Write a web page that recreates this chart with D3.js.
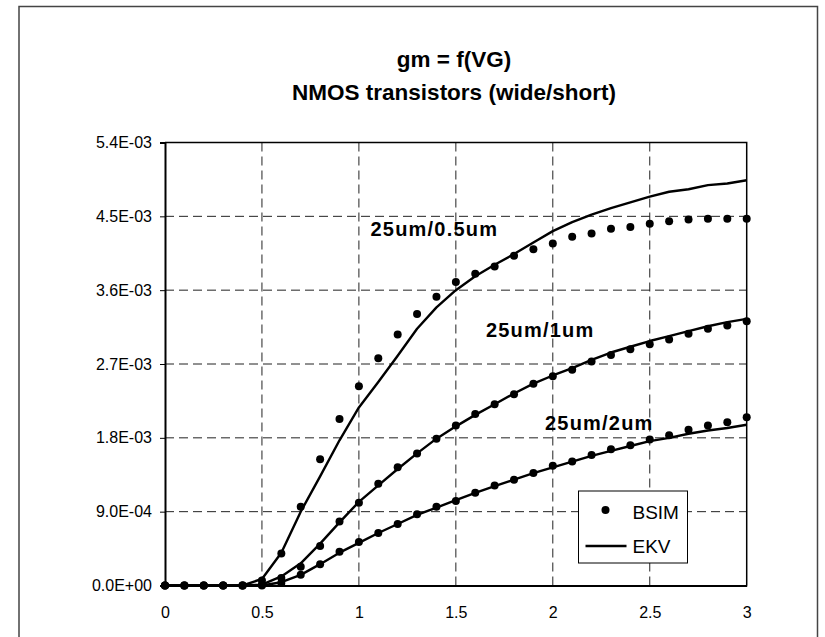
<!DOCTYPE html>
<html>
<head>
<meta charset="utf-8">
<script src="https://cdn.jsdelivr.net/npm/d3@7"></script>
<style>
  html, body { margin: 0; padding: 0; background: #fff; }
  svg { display: block; font-family: "Liberation Sans", Arial, sans-serif; }
</style>
</head>
<body>
<svg id="chart" width="825" height="637"></svg>
<script>
// Gate voltage sweep (V)
const vg = [0, 0.1, 0.2, 0.3, 0.4, 0.5, 0.6, 0.7, 0.8, 0.9, 1.0,
            1.1, 1.2, 1.3, 1.4, 1.5, 1.6, 1.7, 1.8, 1.9, 2.0,
            2.1, 2.2, 2.3, 2.4, 2.5, 2.6, 2.7, 2.8, 2.9, 3.0];

// Transconductance gm, in mS (converted to S when plotted)
const bsim_05 = [0, 0, 0, 0, 0, 0.06, 0.39, 0.96, 1.54, 2.03, 2.43,
                 2.77, 3.06, 3.31, 3.52, 3.70, 3.80, 3.89, 4.02, 4.10, 4.17,
                 4.25, 4.29, 4.35, 4.37, 4.41, 4.44, 4.46, 4.47, 4.47, 4.47];
const ekv_05  = [0, 0, 0, 0, 0, 0.08, 0.40, 0.90, 1.33, 1.77, 2.17,
                 2.48, 2.80, 3.13, 3.39, 3.60, 3.77, 3.91, 4.04, 4.18, 4.32,
                 4.43, 4.52, 4.60, 4.67, 4.74, 4.80, 4.83, 4.88, 4.90, 4.94];
const bsim_1  = [0, 0, 0, 0, 0, 0.01, 0.09, 0.23, 0.48, 0.78, 1.01,
                 1.24, 1.44, 1.61, 1.79, 1.95, 2.09, 2.21, 2.33, 2.46, 2.55,
                 2.63, 2.73, 2.81, 2.88, 2.94, 3.00, 3.07, 3.13, 3.17, 3.22];
const ekv_1   = [0, 0, 0, 0, 0, 0.01, 0.11, 0.27, 0.51, 0.77, 1.02,
                 1.22, 1.42, 1.61, 1.79, 1.94, 2.08, 2.21, 2.34, 2.46, 2.56,
                 2.65, 2.75, 2.84, 2.91, 2.98, 3.04, 3.10, 3.16, 3.21, 3.25];
const bsim_2  = [0, 0, 0, 0, 0, 0, 0.03, 0.13, 0.26, 0.41, 0.53,
                 0.64, 0.75, 0.87, 0.96, 1.03, 1.13, 1.22, 1.29, 1.37, 1.46,
                 1.51, 1.59, 1.66, 1.71, 1.78, 1.83, 1.90, 1.95, 1.99, 2.05];
const ekv_2   = [0, 0, 0, 0, 0, 0, 0.04, 0.13, 0.26, 0.40, 0.52,
                 0.64, 0.75, 0.86, 0.95, 1.04, 1.13, 1.21, 1.29, 1.37, 1.44,
                 1.51, 1.58, 1.64, 1.70, 1.76, 1.80, 1.85, 1.89, 1.92, 1.96];

const xTicks = [0, 0.5, 1, 1.5, 2, 2.5, 3];
const yTicks = [0, 0.0009, 0.0018, 0.0027, 0.0036, 0.0045, 0.0054];

const titleLines = ["gm = f(VG)", "NMOS transistors (wide/short)"];
const curveLabels = [
  { text: "25um/0.5um", at: [1.06, 4.26] },
  { text: "25um/1um",   at: [1.655, 3.03] },
  { text: "25um/2um",   at: [1.96, 1.90] }
];
const legendItems = ["BSIM", "EKV"];

const seriesBSIM = [bsim_05, bsim_1, bsim_2];
const seriesEKV  = [ekv_05, ekv_1, ekv_2];

const svg = d3.select("#chart");

// Outer chart frame (open at the bottom edge of the page)
svg.append("path")
  .attr("d", "M19,640 V6.5 H817.5 V640")
  .attr("fill", "none")
  .attr("stroke", "#444")
  .attr("stroke-width", 1.5);

const x = d3.scaleLinear().domain([0, 3]).range([165, 746.7]);
const y = d3.scaleLinear().domain([0, 0.0054]).range([585.5, 142.5]);

function fmtE(v) {
  const [m, e] = v.toExponential(1).split("e");
  const sign = e[0] === "-" ? "-" : "+";
  return m + "E" + sign + String(Math.abs(+e)).padStart(2, "0");
}

// Dashed grid
const grid = svg.append("g").attr("stroke", "#222").attr("stroke-width", 1)
  .attr("stroke-dasharray", "9,5");
grid.selectAll("line.h").data(yTicks.slice(1, -1)).join("line")
  .attr("x1", x(0)).attr("x2", x(3))
  .attr("y1", d => y(d)).attr("y2", d => y(d));
grid.selectAll("line.v").data(xTicks.slice(1, -1)).join("line")
  .attr("class", "v")
  .attr("x1", d => x(d)).attr("x2", d => x(d))
  .attr("y1", y(0.0054)).attr("y2", y(0));

// Plot border (top and right)
svg.append("path")
  .attr("d", `M${x(0)},${y(0.0054)} H${x(3)} V${y(0)}`)
  .attr("fill", "none").attr("stroke", "#000").attr("stroke-width", 1.5);

// Axes
const yAxis = d3.axisLeft(y).tickValues(yTicks).tickFormat(fmtE).tickSize(5).tickPadding(8);
const gy = svg.append("g").attr("transform", `translate(${x(0)},0)`).call(yAxis);
gy.select(".domain").attr("stroke-width", 2);
gy.selectAll("text").attr("font-size", 16).attr("fill", "#000")
  .attr("font-family", "'Liberation Sans', Arial, sans-serif");

const xAxis = d3.axisBottom(x).tickValues(xTicks).tickFormat(d3.format("")).tickSize(0).tickPadding(21);
const gx = svg.append("g").attr("transform", `translate(0,${y(0)})`).call(xAxis);
gx.select(".domain").attr("stroke-width", 2);
gx.selectAll("text").attr("font-size", 16).attr("fill", "#000")
  .attr("font-family", "'Liberation Sans', Arial, sans-serif");

// EKV curves
const line = d3.line().x((d, i) => x(vg[i])).y(d => y(d / 1000));
svg.append("g").selectAll("path").data(seriesEKV).join("path")
  .attr("d", line)
  .attr("fill", "none").attr("stroke", "#000").attr("stroke-width", 2.4)
  .attr("stroke-linejoin", "round");

// BSIM points
const dots = svg.append("g");
seriesBSIM.forEach(s => {
  dots.selectAll(null).data(s).join("circle")
    .attr("cx", (d, i) => x(vg[i])).attr("cy", d => y(d / 1000)).attr("r", 4)
    .attr("fill", "#000");
});

// Title
svg.append("g").selectAll("text").data(titleLines).join("text")
  .attr("x", 454).attr("y", (d, i) => 67 + i * 33)
  .attr("text-anchor", "middle")
  .attr("font-weight", "bold").attr("font-size", 22.5)
  .text(d => d);

// Curve annotations
svg.append("g").selectAll("text").data(curveLabels).join("text")
  .attr("x", d => x(d.at[0])).attr("y", d => y(d.at[1] / 1000))
  .attr("font-weight", "bold").attr("font-size", 20).attr("letter-spacing", 1.2)
  .text(d => d.text);

// Legend
const lg = svg.append("g").attr("transform", "translate(578.5,491)");
lg.append("rect").attr("width", 109).attr("height", 72)
  .attr("fill", "#fff").attr("stroke", "#000").attr("stroke-width", 1);
lg.append("circle").attr("cx", 27).attr("cy", 19).attr("r", 4).attr("fill", "#000");
lg.append("line").attr("x1", 7).attr("x2", 48).attr("y1", 55).attr("y2", 55)
  .attr("stroke", "#000").attr("stroke-width", 2.4);
lg.selectAll("text").data(legendItems).join("text")
  .attr("x", 54).attr("y", (d, i) => 28 + i * 34)
  .attr("font-size", 19)
  .text(d => d);
</script>
</body>
</html>
